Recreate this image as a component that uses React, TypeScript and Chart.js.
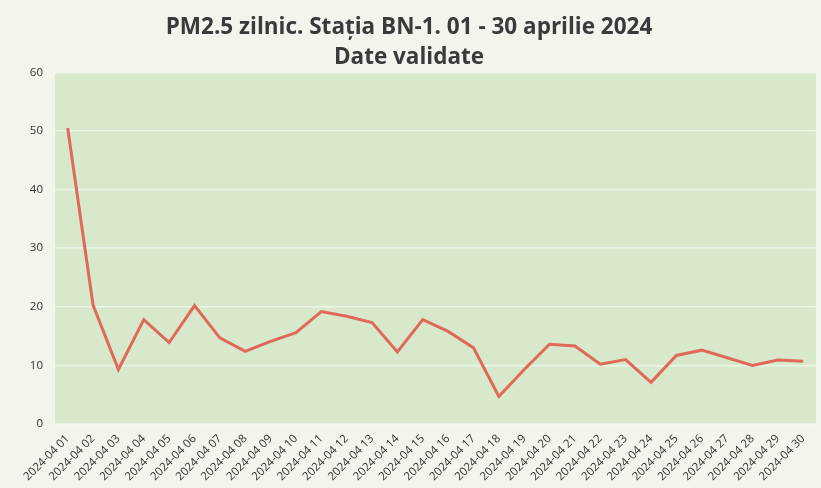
import React, { useEffect, useRef } from "react";
import { Chart, registerables } from "chart.js";

Chart.register(...registerables);

const titleLines = ["PM2.5 zilnic. Stația BN-1. 01 - 30 aprilie 2024", "Date validate"];

const dayLabels = [
  "2024-04 01", "2024-04 02", "2024-04 03", "2024-04 04", "2024-04 05",
  "2024-04 06", "2024-04 07", "2024-04 08", "2024-04 09", "2024-04 10",
  "2024-04 11", "2024-04 12", "2024-04 13", "2024-04 14", "2024-04 15",
  "2024-04 16", "2024-04 17", "2024-04 18", "2024-04 19", "2024-04 20",
  "2024-04 21", "2024-04 22", "2024-04 23", "2024-04 24", "2024-04 25",
  "2024-04 26", "2024-04 27", "2024-04 28", "2024-04 29", "2024-04 30",
];

const pm25Values = [
  50.5, 20.3, 9.3, 17.8, 13.9, 20.2, 14.7, 12.4, 14.1, 15.6,
  19.2, 18.4, 17.3, 12.3, 17.8, 15.8, 13.0, 4.7, 9.3, 13.6,
  13.3, 10.2, 11.0, 7.1, 11.7, 12.6, 11.3, 10.0, 10.9, 10.7,
];

const yMin = 0;
const yMax = 60;
const yStep = 10;

const bgPlugin = {
  id: "bgPlugin",
  beforeDraw(chart: any) {
    const { ctx, chartArea } = chart;
    ctx.save();
    ctx.fillStyle = "#f2f5ec";
    ctx.fillRect(0, 0, chart.width, chart.height);
    ctx.fillStyle = "#d7e9ca";
    ctx.fillRect(chartArea.left, chartArea.top, chartArea.right - chartArea.left, chartArea.bottom - chartArea.top);
    ctx.restore();
  },
};

export default function App() {
  const ref = useRef<HTMLCanvasElement | null>(null);

  useEffect(() => {
    if (!ref.current) return;
    const chart = new Chart(ref.current, {
      type: "line",
      data: {
        labels: dayLabels,
        datasets: [
          {
            label: "PM2.5",
            data: pm25Values,
            borderColor: "#e0695a",
            backgroundColor: "#e0695a",
            borderWidth: 3,
            pointRadius: 0,
            tension: 0,
          },
        ],
      },
      options: {
        animation: false,
        responsive: false,
        maintainAspectRatio: false,
        layout: { padding: { left: 0, right: 3, top: 0, bottom: 0 } },
        plugins: {
          legend: { display: false },
          tooltip: { enabled: false },
          title: {
            display: true,
            text: titleLines,
            color: "#3a3a3a",
            font: { family: "'Open Sans'", size: 22.5, weight: "bold", lineHeight: 1.32 },
            padding: { top: 13, bottom: 0 },
          },
        },
        scales: {
          x: {
            offset: true,
            grid: { display: false, drawTicks: false },
            border: { display: false },
            ticks: {
              autoSkip: false,
              minRotation: 45,
              maxRotation: 45,
              color: "#333",
              padding: 8,
              font: { family: "'Open Sans'", size: 11.5 },
            },
            afterFit(scale: any) {
              scale.height = 64;
            },
          },
          y: {
            min: yMin,
            max: yMax,
            grid: { color: "rgba(255,255,255,0.55)", lineWidth: 1.5, drawTicks: false },
            border: { display: false },
            ticks: {
              stepSize: yStep,
              color: "#333",
              padding: 12,
              font: { family: "'Open Sans'", size: 11.5 },
            },
            afterFit(scale: any) {
              scale.width = 55;
            },
          },
        },
      },
      plugins: [bgPlugin],
    });
    return () => chart.destroy();
  }, []);

  return (
    <div style={{ position: "fixed", left: 0, top: 0, width: 821, height: 488 }}>
      <canvas ref={ref} width={821} height={488} style={{ width: 821, height: 488, display: "block" }} />
    </div>
  );
}
